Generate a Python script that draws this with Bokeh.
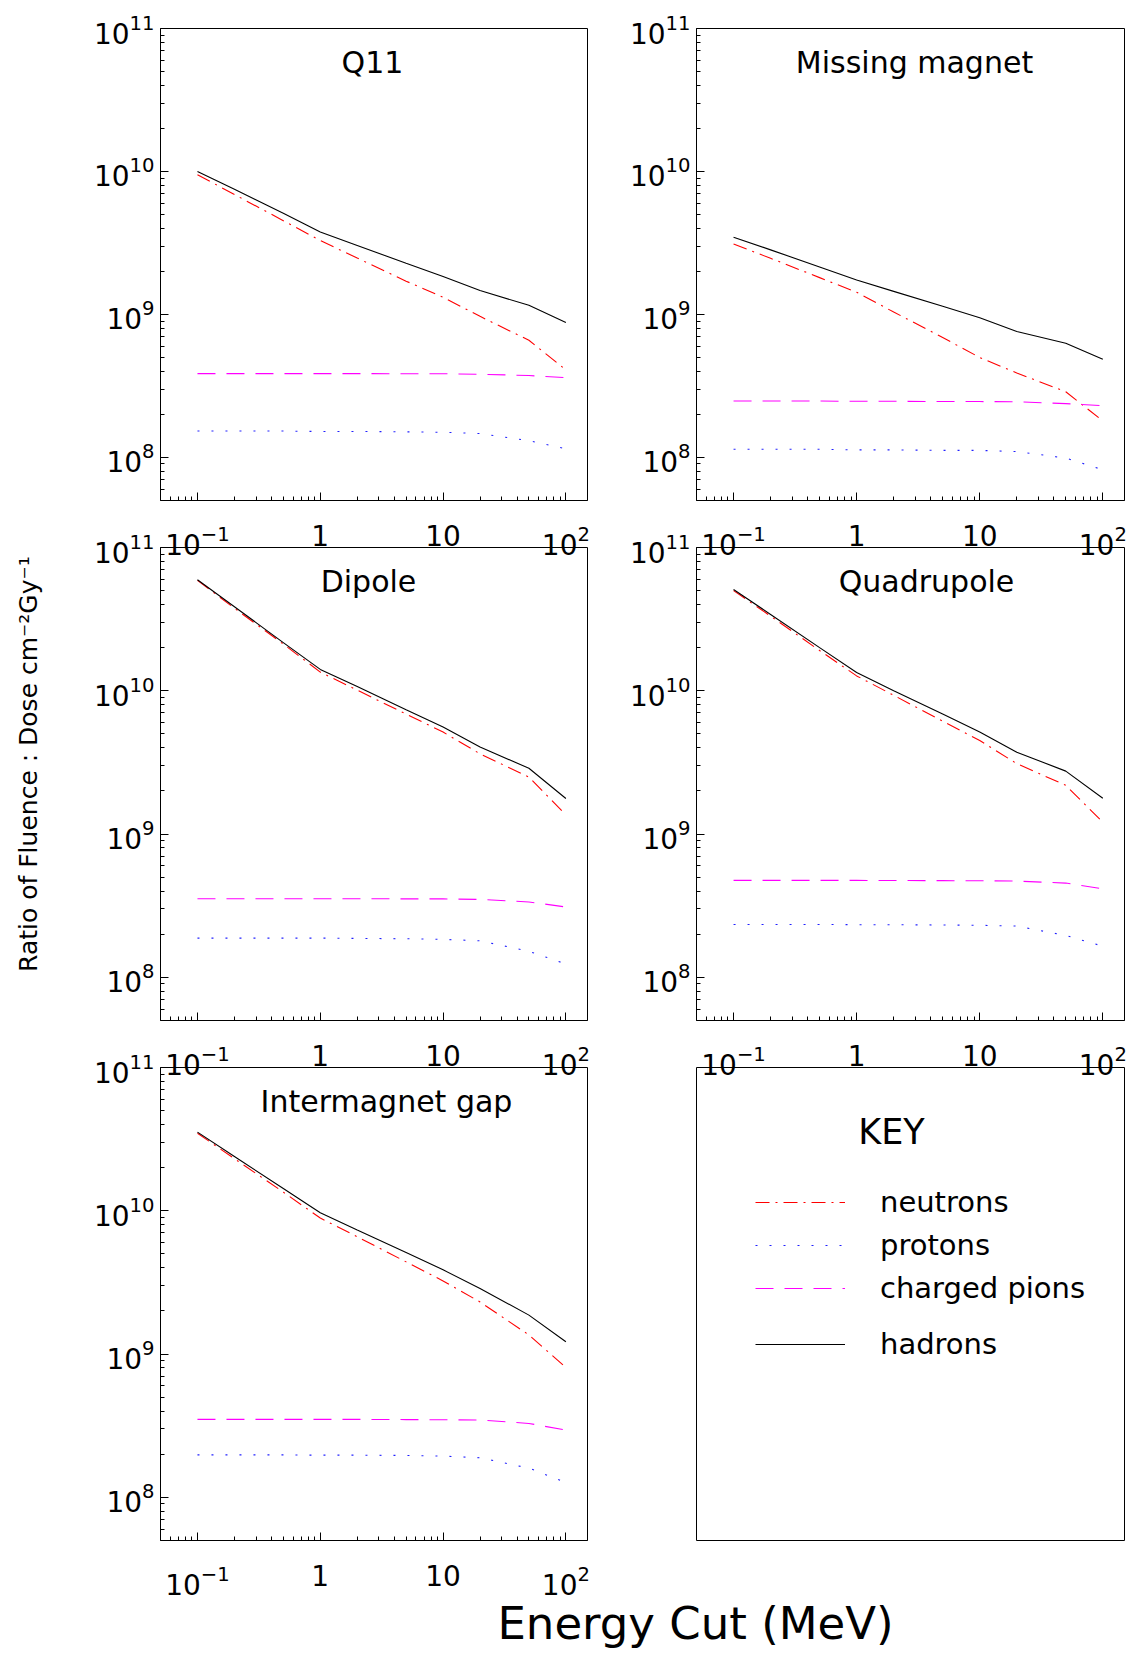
import math
from bokeh.plotting import figure
from bokeh.models import (FixedTicker, LogTickFormatter, Label, Range1d,
                          Legend, LegendItem)
from bokeh.layouts import column, row
from bokeh.embed import file_html
from bokeh.resources import INLINE

# ---------------- data ----------------
energy_mev = [0.1, 0.2, 0.5, 1, 2, 5, 10, 20, 50, 100]

panel_titles = ["Q11", "Missing magnet", "Dipole", "Quadrupole", "Intermagnet gap"]
series_names = ["neutrons", "protons", "charged pions", "hadrons"]

q11_neutrons = [9.5e9, 6.9e9, 4.53e9, 3.29e9, 2.48e9, 1.71e9, 1.32e9, 9.7e8, 6.6e8, 4.1e8]
q11_protons = [1.53e8, 1.53e8, 1.53e8, 1.52e8, 1.52e8, 1.51e8, 1.50e8, 1.47e8, 1.31e8, 1.15e8]
q11_pions = [3.86e8, 3.86e8, 3.86e8, 3.86e8, 3.86e8, 3.85e8, 3.85e8, 3.82e8, 3.74e8, 3.62e8]
q11_hadrons = [1.0e10, 7.5e9, 5.1e9, 3.78e9, 3.04e9, 2.28e9, 1.84e9, 1.47e9, 1.16e9, 8.8e8]

mm_neutrons = [3.11e9, 2.47e9, 1.81e9, 1.43e9, 1.04e9, 6.9e8, 5.0e8, 3.9e8, 2.88e8, 1.8e8]
mm_protons = [1.14e8, 1.14e8, 1.14e8, 1.13e8, 1.13e8, 1.12e8, 1.12e8, 1.10e8, 9.9e7, 8.2e7]
mm_pions = [2.48e8, 2.48e8, 2.48e8, 2.47e8, 2.47e8, 2.46e8, 2.46e8, 2.45e8, 2.38e8, 2.30e8]
mm_hadrons = [3.47e9, 2.83e9, 2.15e9, 1.74e9, 1.45e9, 1.14e9, 9.5e8, 7.6e8, 6.3e8, 4.87e8]

dip_neutrons = [5.9e10, 3.77e10, 2.12e10, 1.35e10, 1.01e10, 6.88e9, 5.15e9, 3.63e9, 2.5e9, 1.36e9]
dip_protons = [1.88e8, 1.88e8, 1.88e8, 1.88e8, 1.87e8, 1.86e8, 1.84e8, 1.80e8, 1.52e8, 1.24e8]
dip_pions = [3.54e8, 3.54e8, 3.54e8, 3.54e8, 3.54e8, 3.53e8, 3.53e8, 3.50e8, 3.36e8, 3.10e8]
dip_hadrons = [5.95e10, 3.86e10, 2.17e10, 1.41e10, 1.07e10, 7.37e9, 5.58e9, 4.05e9, 2.88e9, 1.77e9]

quad_neutrons = [5.0e10, 3.32e10, 1.91e10, 1.27e10, 9.3e9, 6.14e9, 4.5e9, 3.1e9, 2.19e9, 1.21e9]
quad_protons = [2.34e8, 2.34e8, 2.34e8, 2.33e8, 2.33e8, 2.32e8, 2.31e8, 2.28e8, 1.96e8, 1.65e8]
quad_pions = [4.75e8, 4.75e8, 4.75e8, 4.75e8, 4.74e8, 4.73e8, 4.72e8, 4.70e8, 4.55e8, 4.15e8]
quad_hadrons = [5.09e10, 3.41e10, 2.0e10, 1.34e10, 1.0e10, 6.88e9, 5.15e9, 3.73e9, 2.75e9, 1.78e9]

gap_neutrons = [3.48e10, 2.31e10, 1.35e10, 8.9e9, 6.59e9, 4.4e9, 3.24e9, 2.31e9, 1.36e9, 8.07e8]
gap_protons = [1.98e8, 1.98e8, 1.98e8, 1.97e8, 1.97e8, 1.96e8, 1.94e8, 1.89e8, 1.60e8, 1.27e8]
gap_pions = [3.50e8, 3.50e8, 3.50e8, 3.50e8, 3.50e8, 3.49e8, 3.48e8, 3.47e8, 3.28e8, 2.95e8]
gap_hadrons = [3.54e10, 2.39e10, 1.43e10, 9.7e9, 7.33e9, 5.11e9, 3.87e9, 2.87e9, 1.87e9, 1.22e9]

panel_data = [
    [q11_neutrons, q11_protons, q11_pions, q11_hadrons],
    [mm_neutrons, mm_protons, mm_pions, mm_hadrons],
    [dip_neutrons, dip_protons, dip_pions, dip_hadrons],
    [quad_neutrons, quad_protons, quad_pions, quad_hadrons],
    [gap_neutrons, gap_protons, gap_pions, gap_hadrons],
]

x_tick_values = [0.1, 1, 10, 100]
x_plain_labels = {1: "1", 10: "10"}
y_tick_values = [1e8, 1e9, 1e10, 1e11]

x_title = "Energy Cut (MeV)"
y_title = "Ratio of Fluence : Dose cm\u207b\u00b2Gy\u207b\u00b9"
key_title = "KEY"

# ---------------- styling / layout ----------------
X_LO, X_HI = 0.05, 150.0
Y_LO, Y_HI = 5e7, 1e11
x_minor = [m * 0.01 for m in range(6, 10)] + [m * 10.0 ** e for e in (-1, 0, 1) for m in range(2, 10)]
y_minor = [m * 1e7 for m in range(6, 10)] + [m * 10.0 ** e for e in (8, 9, 10) for m in range(2, 10)]

STYLE = {
    "neutrons": dict(line_color="#ff0000", line_dash="14 6 2 6"),
    "protons": dict(line_color="#2020ff", line_dash="2 12"),
    "charged pions": dict(line_color="#ff00ff", line_dash="18 11"),
    "hadrons": dict(line_color="#000000", line_dash="solid"),
}

FW = [427, 428]          # frame width by column
FH = [472, 473, 473]     # frame height by row
BL = [160, 96]
BR = [13, 18]
BT = [28, 25, 25]
BB = [66, 66, 70]
ROW_MARGIN = -44
TITLE_FONT = "DejaVu Sans"
TITLE_X = [212, 218, 208, 230, 226]   # title centre, px from frame left
TITLE_DROP = 34                       # title baseline, px below frame top
YTITLE_SHIFT = "\u00a0" * 5           # nudges the centred y title upwards


def x_at(px, fw):
    lo, hi = math.log10(X_LO), math.log10(X_HI)
    return 10 ** (lo + px / fw * (hi - lo))


def y_at(px_from_top, fh):
    lo, hi = math.log10(Y_LO), math.log10(Y_HI)
    return 10 ** (hi - px_from_top / fh * (hi - lo))


def style_axis(ax, standoff):
    ax.major_tick_in = 8
    ax.major_tick_out = 0
    ax.minor_tick_in = 4
    ax.minor_tick_out = 0
    ax.major_tick_line_color = "black"
    ax.minor_tick_line_color = "black"
    ax.axis_line_color = "black"
    ax.major_label_text_font = "DejaVu Sans"
    ax.major_label_text_font_size = "28px"
    ax.major_label_text_color = "black"
    ax.major_label_standoff = standoff
    ax.formatter = LogTickFormatter()


def make_panel(i, col, rw):
    fw, fh = FW[col], FH[rw]
    p = figure(x_axis_type="log", y_axis_type="log",
               x_range=Range1d(X_LO, X_HI), y_range=Range1d(Y_LO, Y_HI),
               frame_width=fw, frame_height=fh,
               min_border_left=BL[col], min_border_right=BR[col],
               min_border_top=BT[rw], min_border_bottom=BB[rw],
               output_backend="svg", toolbar_location=None)
    p.background_fill_color = None
    p.border_fill_color = None
    p.outline_line_color = "black"
    p.outline_line_width = 1
    p.outline_line_alpha = 1
    p.grid.visible = False
    style_axis(p.xaxis[0], 24)
    style_axis(p.yaxis[0], 6)
    p.xaxis[0].ticker = FixedTicker(ticks=x_tick_values, minor_ticks=x_minor)
    p.yaxis[0].ticker = FixedTicker(ticks=y_tick_values, minor_ticks=y_minor)
    p.xaxis[0].major_label_overrides = x_plain_labels
    for name, vals in zip(series_names, panel_data[i]):
        p.line(energy_mev, vals, line_width=1.1, **STYLE[name])
    p.add_layout(Label(x=x_at(TITLE_X[i], fw), y=y_at(TITLE_DROP, fh), text=panel_titles[i],
                       text_align="center", text_baseline="alphabetic",
                       text_font=TITLE_FONT, text_font_size="30px", text_color="black"))
    return p


p_q11 = make_panel(0, 0, 0)
p_mm = make_panel(1, 1, 0)
p_dip = make_panel(2, 0, 1)
p_quad = make_panel(3, 1, 1)
p_gap = make_panel(4, 0, 2)

# y axis title, as the axis label of the middle-left panel
p_dip.yaxis[0].axis_label = YTITLE_SHIFT + y_title
p_dip.yaxis[0].axis_label_standoff = 48
p_dip.yaxis[0].axis_label_text_font = TITLE_FONT
p_dip.yaxis[0].axis_label_text_font_size = "25px"
p_dip.yaxis[0].axis_label_text_font_style = "normal"
p_dip.yaxis[0].axis_label_text_color = "black"

# ---------------- key panel ----------------
kp = figure(x_range=Range1d(0, FW[1]), y_range=Range1d(0, FH[2]),
            frame_width=FW[1], frame_height=FH[2],
            min_border_left=BL[1], min_border_right=BR[1],
            min_border_top=BT[2], min_border_bottom=BB[2],
            x_axis_location=None, y_axis_location=None,
            output_backend="svg", toolbar_location=None)
kp.background_fill_color = None
kp.border_fill_color = None
kp.outline_line_color = "black"
kp.outline_line_width = 1
kp.grid.visible = False

# key sample renderers: real series, which fall far outside this panel's ranges
key_renderers = {}
for name, vals in zip(series_names, panel_data[0]):
    key_renderers[name] = kp.line(energy_mev, vals, line_width=1.1, **STYLE[name])


def make_legend(names, loc):
    lg = Legend(items=[LegendItem(label=n, renderers=[key_renderers[n]]) for n in names],
                location=loc, orientation="vertical", padding=0, margin=0, spacing=3,
                glyph_width=90, glyph_height=40, label_height=40, label_standoff=35,
                label_text_font=TITLE_FONT, label_text_font_size="29px",
                label_text_baseline="alphabetic", label_text_color="black",
                border_line_color=None, background_fill_alpha=0)
    kp.add_layout(lg)


make_legend(series_names[:3], (59, 232))
make_legend(series_names[3:], (59, 176))
kp.add_layout(Label(x=195, y=409, text=key_title, text_align="center",
                    text_baseline="alphabetic", text_font=TITLE_FONT,
                    text_font_size="35px", text_color="black"))

# ---------------- bottom title ----------------
bf = figure(x_range=Range1d(0, 1142), y_range=Range1d(0, 59),
            frame_width=1142, frame_height=59, min_border=0,
            x_axis_location=None, y_axis_location=None,
            output_backend="svg", toolbar_location=None)
bf.outline_line_color = None
bf.grid.visible = False
bf.background_fill_color = None
bf.border_fill_color = None
bf.add_layout(Label(x=695, y=31, text=x_title, text_align="center",
                    text_baseline="alphabetic", text_font=TITLE_FONT,
                    text_font_size="45px", text_color="black"))

r1 = row(p_q11, p_mm)
r2 = row(p_dip, p_quad, margin=(ROW_MARGIN, 0, 0, 0))
r3 = row(p_gap, kp, margin=(ROW_MARGIN, 0, 0, 0))
bf.margin = (-15, 0, 0, 0)
layout = column(r1, r2, r3, bf)

open("out.html", "w").write(file_html(layout, INLINE))
